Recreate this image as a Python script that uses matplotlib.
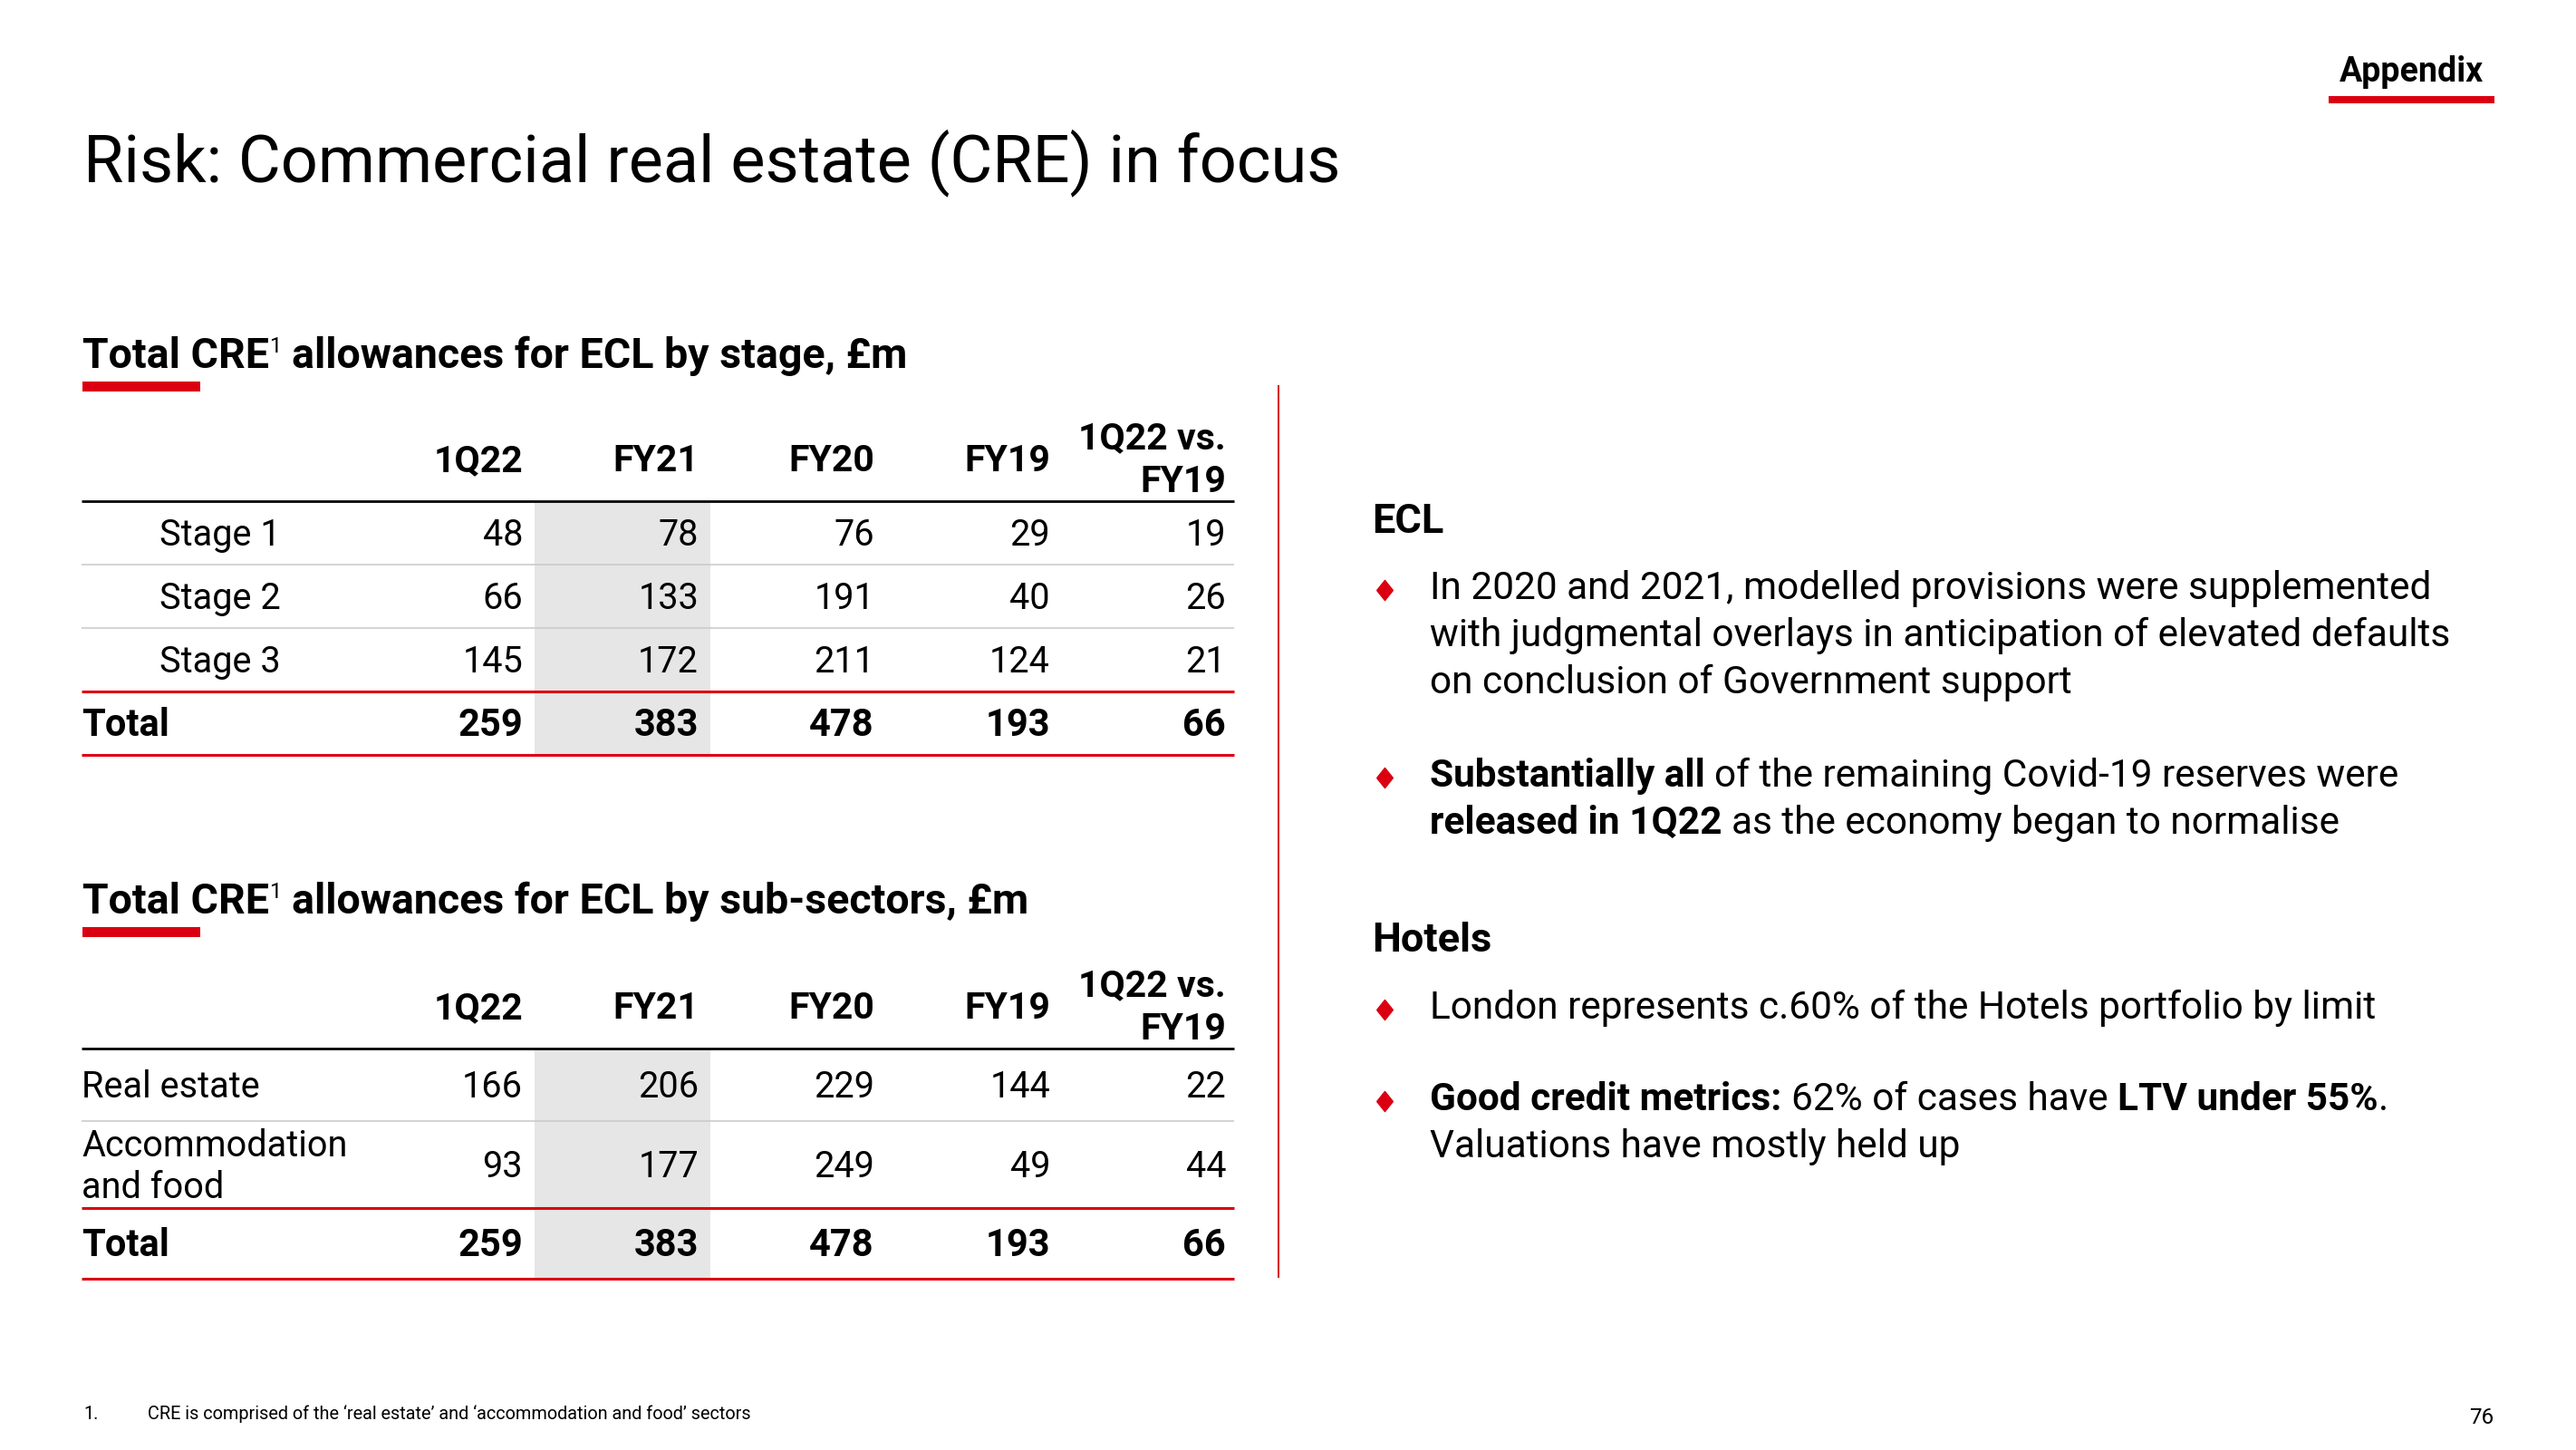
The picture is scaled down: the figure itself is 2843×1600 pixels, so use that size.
import numpy as np
from matplotlib import pyplot as plt
from matplotlib.patches import Rectangle

RED = "#DB0011"
GREY_LINE = "#C8C8C8"
SHADE = "#E6E6E6"
FONT = ["Roboto", "DejaVu Sans"]

# table data
columns = ["1Q22", "FY21", "FY20", "FY19", "1Q22 vs.\nFY19"]
highlight_col = 1

stage_labels = ["Stage 1", "Stage 2", "Stage 3"]
stage_values = [[48, 78, 76, 29, 19],
                [66, 133, 191, 40, 26],
                [145, 172, 211, 124, 21]]
stage_total = [259, 383, 478, 193, 66]

sector_labels = ["Real estate", "Accommodation\nand food"]
sector_values = [[166, 206, 229, 144, 22],
                 [93, 177, 249, 49, 44]]
sector_total = [259, 383, 478, 193, 66]

# right hand commentary, one list of (text, bold) runs per line
ecl_bullets = [
    [[("In 2020 and 2021, modelled provisions were supplemented", False)],
     [("with judgmental overlays in anticipation of elevated defaults", False)],
     [("on conclusion of Government support", False)]],
    [[("Substantially all", True), (" of the remaining Covid-19 reserves were", False)],
     [("released in 1Q22", True), (" as the economy began to normalise", False)]],
]
hotel_bullets = [
    [[("London represents c.60% of the Hotels portfolio by limit", False)]],
    [[("Good credit metrics:", True), (" 62% of cases have ", False),
      ("LTV under 55%", True), (".", False)],
     [("Valuations have mostly held up", False)]],
]

W, H = 2843, 1600
fig = plt.figure(figsize=(W / 100, H / 100), dpi=100)
ax = fig.add_axes([0, 0, 1, 1])
ax.set_xlim(0, W)
ax.set_ylim(H, 0)
ax.axis("off")
renderer = fig.canvas.get_renderer()


def space_width(weight, size):
    a = ax.text(0, 0, "x x", fontsize=size, fontweight=weight, family=FONT)
    b = ax.text(0, 0, "xx", fontsize=size, fontweight=weight, family=FONT)
    w = a.get_window_extent(renderer).width - b.get_window_extent(renderer).width
    a.remove()
    b.remove()
    return w


def draw_runs(x, y, runs):
    # runs: (text, weight, size, dy)
    for text, weight, size, dy in runs:
        sp = space_width(weight, size)
        lead = len(text) - len(text.lstrip(" "))
        trail = len(text) - len(text.rstrip(" "))
        x += lead * sp
        t = ax.text(x, y + dy, text.strip(" "), fontsize=size, fontweight=weight,
                    family=FONT, ha="left", va="baseline", zorder=3)
        x += t.get_window_extent(renderer).width + trail * sp
    return x


# header texts
ax.text(92, 200, "Risk: Commercial real estate (CRE) in focus", fontsize=51.8,
        family=FONT, ha="left", va="baseline")
ax.text(2661, 90, "Appendix", fontsize=27, fontweight="bold", family=FONT,
        ha="center", va="baseline")
ax.add_patch(Rectangle((2570, 106), 183, 8, color=RED, lw=0))


def section_heading(y, tail):
    draw_runs(91, y, [("Total CRE", "bold", 33.5, 0), ("1", "normal", 17, -17),
                      (" " + tail, "bold", 33.5, 0)])
    ax.add_patch(Rectangle((91, y + 15), 130, 11, color=RED, lw=0))


X0, X1 = 90, 1362
COL_LEFT, COL_W = 396, 194


def draw_table(line_y, row_heights, labels, values, total, indent):
    rows = [(lab, vals, False) for lab, vals in zip(labels, values)]
    rows.append(("Total", total, True))
    ax.add_patch(Rectangle((COL_LEFT + highlight_col * COL_W, line_y), COL_W,
                           sum(row_heights), color=SHADE, lw=0, zorder=0))
    for i, head in enumerate(columns):
        right = COL_LEFT + (i + 1) * COL_W - 13
        parts = head.split("\n")
        ys = [line_y - 33] if len(parts) == 1 else [line_y - 58, line_y - 10]
        for part, yy in zip(parts, ys):
            ax.text(right, yy, part, fontsize=29.5, fontweight="bold", family=FONT,
                    ha="right", va="baseline", zorder=3)
    ax.plot([X0, X1], [line_y, line_y], color="black", lw=2.0, zorder=2,
            solid_capstyle="butt")
    y = line_y
    for r, ((lab, vals, bold), rh) in enumerate(zip(rows, row_heights)):
        centre = y + rh / 2
        weight = "bold" if bold else "normal"
        size = 30 if bold else 28.5
        lines = lab.split("\n")
        lx = X0 if bold else X0 + indent
        for k, part in enumerate(lines):
            yy = centre + 14 - (len(lines) - 1) * 23 + k * 46
            ax.text(lx, yy, part, fontsize=size, fontweight=weight, family=FONT,
                    ha="left", va="baseline", zorder=3)
        for i, v in enumerate(vals):
            right = COL_LEFT + (i + 1) * COL_W - 13
            ax.text(right, centre + 14, str(v), fontsize=size, fontweight=weight,
                    family=FONT, ha="right", va="baseline", zorder=3)
        y += rh
        if r < len(rows) - 2:
            col, lw = GREY_LINE, 1.1
        else:
            col, lw = RED, 2.2
        ax.plot([X0, X1], [y, y], color=col, lw=lw, zorder=2, solid_capstyle="butt")


section_heading(406, "allowances for ECL by stage, £m")
draw_table(553, [70, 70, 70, 70], stage_labels, stage_values, stage_total, 86)

section_heading(1008, "allowances for ECL by sub-sectors, £m")
draw_table(1157, [80, 96, 78], sector_labels, sector_values, sector_total, 0)

# divider
ax.plot([1411, 1411], [426, 1409], color=RED, lw=1.4)

# commentary
diamond = [(-0.8, 0), (0, 1), (0.8, 0), (0, -1), (-0.8, 0)]


def draw_block(head, head_y, bullets, starts):
    ax.text(1514, head_y, head, fontsize=32.5, fontweight="bold", family=FONT,
            ha="left", va="baseline")
    for bullet, y0 in zip(bullets, starts):
        ax.plot(1528, y0 - 10, marker=diamond, ms=16, color=RED, lw=0)
        for k, line in enumerate(bullet):
            runs = [(t, "bold" if b else "normal", 30.5, 0) for t, b in line]
            draw_runs(1578, y0 + k * 52, runs)


draw_block("ECL", 588, ecl_bullets, [661, 868])
draw_block("Hotels", 1050, hotel_bullets, [1124, 1225])

# footer
ax.text(92, 1566, "1.", fontsize=14.3, family=FONT, ha="left", va="baseline")
ax.text(163, 1566, "CRE is comprised of the \u2018real estate\u2019 and \u2018accommodation and food\u2019 sectors",
        fontsize=14.3, family=FONT, ha="left", va="baseline")
ax.text(2752, 1571, "76", fontsize=17.5, family=FONT, ha="right", va="baseline")

fig.savefig("out.png", dpi=100, facecolor="white")
